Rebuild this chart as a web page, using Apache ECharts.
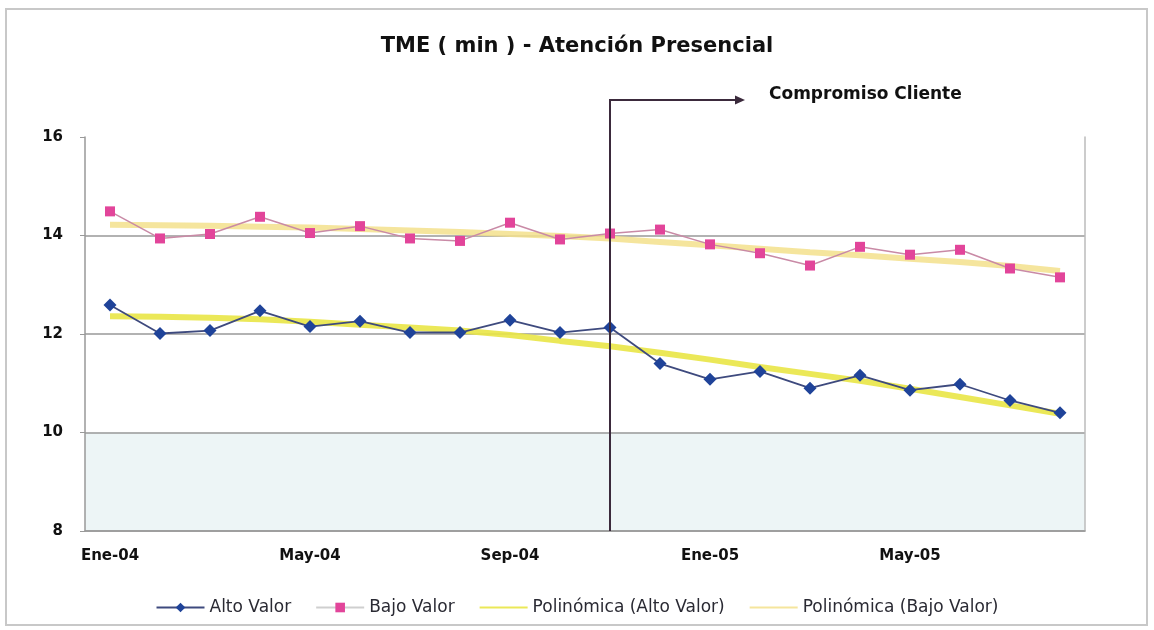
<!DOCTYPE html>
<html>
<head>
<meta charset="utf-8">
<script src="https://cdn.jsdelivr.net/npm/echarts@6/dist/echarts.min.js"></script>
<style>
  html, body { margin: 0; padding: 0; background: #fff; }
  #chart { width: 1154px; height: 630px; }
</style>
</head>
<body>
<div id="chart"></div>
<script>
// Months, Jan 2004 – Aug 2005
const months = ['Ene-04','Feb-04','Mar-04','Abr-04','May-04','Jun-04','Jul-04','Ago-04','Sep-04','Oct-04',
                'Nov-04','Dic-04','Ene-05','Feb-05','Mar-05','Abr-05','May-05','Jun-05','Jul-05','Ago-05'];

// Average wait time (minutes)
const altoValor = [12.59, 12.01, 12.07, 12.47, 12.15, 12.26, 12.03, 12.03, 12.28, 12.03,
                   12.13, 11.40, 11.08, 11.24, 10.90, 11.16, 10.86, 10.98, 10.65, 10.40];
const bajoValor = [14.49, 13.94, 14.03, 14.38, 14.05, 14.19, 13.94, 13.89, 14.26, 13.92,
                   14.04, 14.12, 13.82, 13.64, 13.39, 13.77, 13.61, 13.71, 13.33, 13.15];

// Polynomial trend lines
const polyAlto = [12.36, 12.35, 12.33, 12.30, 12.25, 12.19, 12.13, 12.07, 11.98, 11.86,
                  11.75, 11.62, 11.48, 11.33, 11.19, 11.05, 10.89, 10.72, 10.55, 10.38];
const polyBajo = [14.22, 14.21, 14.20, 14.18, 14.16, 14.13, 14.10, 14.07, 14.03, 13.99,
                  13.94, 13.87, 13.80, 13.73, 13.66, 13.60, 13.53, 13.46, 13.38, 13.28];

const yTicks = { min: 8, max: 16, step: 2 };
const lowBand = [8, 10];
const commitmentMonth = 'Nov-04';

const chart = echarts.init(document.getElementById('chart'));
const FONT = '"DejaVu Sans", "Liberation Sans", Arial, sans-serif';

chart.setOption({
  backgroundColor: '#fff',
  animation: false,
  title: {
    text: 'TME ( min ) - Atención Presencial',
    left: 'center', top: 31,
    textStyle: { fontFamily: FONT, fontSize: 21, fontWeight: 'bold', color: '#111' }
  },
  grid: { left: 85, right: 69, top: 137, bottom: 99 },
  legend: {
    top: 594, left: 'center',
    itemWidth: 48, itemHeight: 12, itemGap: 24,
    textStyle: { fontFamily: FONT, fontSize: 17, color: '#2a2a33' },
    data: [
      { name: 'Alto Valor' },
      { name: 'Bajo Valor', lineStyle: { color: '#cfcfcf' } },
      { name: 'Polinómica (Alto Valor)', itemStyle: { opacity: 0 } },
      { name: 'Polinómica (Bajo Valor)', itemStyle: { opacity: 0 } }
    ]
  },
  xAxis: {
    type: 'category',
    data: months,
    boundaryGap: true,
    axisLine: { lineStyle: { color: '#999', width: 1.5 } },
    axisTick: { interval: 3, length: 4, lineStyle: { color: '#999' } },
    axisLabel: { interval: 3, margin: 18, fontFamily: FONT, fontSize: 15, fontWeight: 'bold', color: '#111' }
  },
  yAxis: [{
    type: 'value',
    min: yTicks.min, max: yTicks.max, interval: yTicks.step,
    axisLine: { show: true, lineStyle: { color: '#999', width: 1.5 } },
    axisTick: { show: true, length: 5, lineStyle: { color: '#999' } },
    axisLabel: { margin: 22, fontFamily: FONT, fontSize: 15, fontWeight: 'bold', color: '#111' },
    splitLine: { show: true, lineStyle: { color: ['#999', '#999', '#999', '#999', 'rgba(0,0,0,0)'], width: 1.5 } }
  }, {
    type: 'value', position: 'right',
    min: yTicks.min, max: yTicks.max, interval: yTicks.step,
    axisLine: { show: true, lineStyle: { color: '#bbb', width: 1.5 } },
    axisTick: { show: false }, axisLabel: { show: false }, splitLine: { show: false }
  }],
  series: [
    {
      // pale background band, kept beneath the grid lines
      name: 'band', type: 'line', data: [], z: -1, silent: true,
      markArea: {
        silent: true, z: -1,
        itemStyle: { color: '#edf5f6' },
        data: [[{ yAxis: lowBand[0] }, { yAxis: lowBand[1] }]]
      }
    },
    {
      name: 'Polinómica (Bajo Valor)', type: 'line', data: polyBajo,
      symbol: 'none', z: 1,
      lineStyle: { color: '#f3e08c', width: 6, opacity: 0.85 },
      itemStyle: { color: '#f3e08c' }
    },
    {
      name: 'Polinómica (Alto Valor)', type: 'line', data: polyAlto,
      symbol: 'none', z: 1,
      lineStyle: { color: '#e9e646', width: 6, opacity: 0.9 },
      itemStyle: { color: '#e9e646' }
    },
    {
      name: 'Bajo Valor', type: 'line', data: bajoValor,
      symbol: 'rect', symbolSize: 10, z: 3,
      lineStyle: { color: '#c98aa6', width: 1.5 },
      itemStyle: { color: '#e2459a' }
    },
    {
      name: 'Alto Valor', type: 'line', data: altoValor,
      symbol: 'diamond', symbolSize: 13, z: 4,
      lineStyle: { color: '#3e4a7e', width: 1.8 },
      itemStyle: { color: '#1f4399' }
    }
  ]
});

// "Compromiso Cliente" marker: vertical line at the commitment month with an arrow to the right
function drawAnnotations() {
  const x = chart.convertToPixel({ xAxisIndex: 0 }, commitmentMonth);
  const yBottom = chart.convertToPixel({ yAxisIndex: 0 }, yTicks.min);
  const yTop = 100;
  const xArrow = 745;
  chart.setOption({
    graphic: [
      {
        type: 'rect', silent: true, z: -10,
        shape: { x: 6, y: 9, width: 1141, height: 616 },
        style: { fill: 'none', stroke: '#c8c8c8', lineWidth: 2 }
      },
      {
        type: 'polyline', silent: true, z: 100,
        shape: { points: [[x, yBottom], [x, yTop], [xArrow - 8, yTop]] },
        style: { stroke: '#3b2a3c', lineWidth: 2, fill: 'none' }
      },
      {
        type: 'polygon', silent: true, z: 100,
        shape: { points: [[xArrow, yTop], [xArrow - 10, yTop - 4.5], [xArrow - 10, yTop + 4.5]] },
        style: { fill: '#3b2a3c' }
      },
      {
        type: 'text', silent: true, z: 100,
        left: 769, top: 86,
        style: { text: 'Compromiso Cliente', font: 'bold 17px ' + FONT, fill: '#111' }
      }
    ]
  });
}
drawAnnotations();
</script>
</body>
</html>
